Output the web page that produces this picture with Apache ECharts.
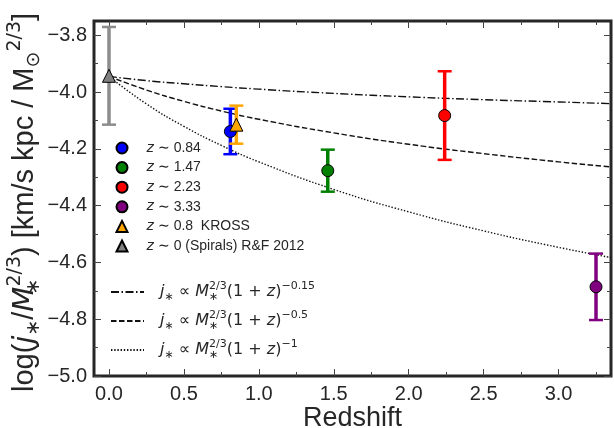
<!DOCTYPE html>
<html><head><meta charset="utf-8">
<script src="https://cdn.jsdelivr.net/npm/echarts@6/dist/echarts.min.js"></script>
<style>html,body{margin:0;padding:0;background:#fff}#c{width:614px;height:428px}</style>
</head><body><div id="c"></div>
<script>
// ---- data ----
const sampleLabels = ['0.84', '1.47', '2.23', '3.33', '0.8  KROSS', '0 (Spirals) R&F 2012'];
const sampleZ = [0.81, 1.46, 2.24, 3.25, 0.85, 0.0];
const sampleLogJ = [-4.139, -4.277, -4.083, -4.686, -4.115, -3.943];
const sampleErr = [0.080, 0.074, 0.156, 0.117, 0.067, 0.172];
const sampleColors = ['#0000ff', '#008000', '#ff0000', '#800080', '#ffa500', '#808080'];
const barColors = ['#0000ff', '#008000', '#ff0000', '#800080', '#ffa500', '#8c8c8c'];
const sampleSymbols = ['circle', 'circle', 'circle', 'circle', 'triangle', 'triangle'];

const modelZ = [0, 0.25, 0.5, 0.75, 1.0, 1.5, 2.0, 2.5, 3.0, 3.35];
const modelP015 = [-3.945, -3.960, -3.971, -3.981, -3.990, -4.005, -4.017, -4.027, -4.035, -4.041];
const modelP05 = [-3.945, -3.993, -4.033, -4.067, -4.096, -4.144, -4.184, -4.217, -4.246, -4.264];
const modelP1 = [-3.945, -4.042, -4.121, -4.188, -4.246, -4.343, -4.422, -4.489, -4.547, -4.583];
const modelNames = ['n015', 'n05', 'n1'];
const modelExps = ['−0.15', '−0.5', '−1'];

const xTicks = [0, 0.5, 1.0, 1.5, 2.0, 2.5, 3.0];
const xMinor = [0.25, 0.75, 1.25, 1.75, 2.25, 2.75, 3.25];
const yTicks = [-5.0, -4.8, -4.6, -4.4, -4.2, -4.0, -3.8];
const yMinor = [-4.9, -4.7, -4.5, -4.3, -4.1, -3.9];

const X_MIN = -0.1, X_MAX = 3.35, Y_MIN = -5.0, Y_MAX = -3.75;
const INK = '#262626';

// ---- build ----
const series = [];
const modelData = [modelP015, modelP05, modelP1];
const dashes = [[8, 2.5, 1.5, 2.5], [5.5, 2.5], [1.4, 1.8]];
modelData.forEach((arr, k) => {
  series.push({
    name: modelNames[k], type: 'line', xAxisIndex: 0, yAxisIndex: 0,
    data: modelZ.map((z, i) => [z, arr[i]]), smooth: true, symbol: 'none', showSymbol: false,
    itemStyle: { color: '#111' },
    lineStyle: { color: '#111', width: 1.4, type: dashes[k] }, z: 1, silent: true
  });
});
sampleZ.forEach((z, i) => {
  const col = barColors[i];
  series.push({
    type: 'custom', xAxisIndex: 0, yAxisIndex: 0, z: 2, silent: true,
    data: [[z, sampleLogJ[i], sampleLogJ[i] - sampleErr[i], sampleLogJ[i] + sampleErr[i]]],
    renderItem: function (params, api) {
      const x = api.value(0);
      const p1 = api.coord([x, api.value(3)]);
      const p2 = api.coord([x, api.value(2)]);
      const cw = 7;
      return { type: 'group', children: [
        { type: 'line', shape: { x1: p1[0], y1: p1[1], x2: p2[0], y2: p2[1] }, style: { stroke: col, lineWidth: 3.5 } },
        { type: 'line', shape: { x1: p1[0] - cw, y1: p1[1], x2: p1[0] + cw, y2: p1[1] }, style: { stroke: col, lineWidth: 2.5 } },
        { type: 'line', shape: { x1: p2[0] - cw, y1: p2[1], x2: p2[0] + cw, y2: p2[1] }, style: { stroke: col, lineWidth: 2.5 } }
      ]};
    }
  });
});
sampleZ.forEach((z, i) => {
  series.push({
    name: 'z ∼ ' + sampleLabels[i], type: 'scatter', xAxisIndex: 0, yAxisIndex: 0, z: 3,
    symbol: sampleSymbols[i], symbolSize: sampleSymbols[i] === 'circle' ? 12 : 13,
    itemStyle: { color: sampleColors[i], borderColor: '#000', borderWidth: 1, opacity: 1 },
    data: [[z, sampleLogJ[i]]]
  });
});

function xAxisDef(pos, vals, len, labels) {
  return {
    type: 'value', position: pos, min: X_MIN, max: X_MAX,
    axisLine: { show: false, onZero: false }, splitLine: { show: false },
    axisTick: { show: true, inside: true, length: len, customValues: vals, lineStyle: { color: '#444', width: 1 } },
    axisLabel: labels ? { show: true, customValues: vals, margin: 8, fontSize: 20, color: INK, fontFamily: 'Liberation Sans, Arial',
      formatter: v => v.toFixed(1) } : { show: false }
  };
}
function yAxisDef(pos, vals, len, labels) {
  return {
    type: 'value', position: pos, min: Y_MIN, max: Y_MAX,
    axisLine: { show: false, onZero: false }, splitLine: { show: false },
    axisTick: { show: true, inside: true, length: len, customValues: vals, lineStyle: { color: '#444', width: 1 } },
    axisLabel: labels ? { show: true, customValues: vals, margin: 7, fontSize: 20, color: INK, fontFamily: 'Liberation Sans, Arial',
      formatter: v => v.toFixed(1).replace('-', '−') } : { show: false }
  };
}

const xA0 = xAxisDef('bottom', xTicks, 7, true);
xA0.name = 'Redshift'; xA0.nameLocation = 'middle'; xA0.nameGap = 29; xA0.nameMoveOverlap = false;
xA0.nameTextStyle = { fontSize: 27, color: INK, fontFamily: 'Liberation Sans, Arial' };
const yA0 = yAxisDef('left', yTicks, 7, true);
yA0.name = '{t|log(}{i|j}{sb|∗}{t|/}{i|M}{sz|∗}{sp|2/3}{t|) [km/s kpc / M}{sb|⊙}{sp|2/3}{t|]}';
yA0.nameLocation = 'middle'; yA0.nameGap = 50; yA0.nameMoveOverlap = false;
const mathFont = 'DejaVu Sans';
yA0.nameTextStyle = { fontSize: 29, color: INK, padding: [0, 8, 0, 0], rich: {
  t: { fontSize: 29, lineHeight: 38, color: INK, fontFamily: 'Liberation Sans, Arial' },
  i: { fontSize: 29, lineHeight: 38, color: INK, fontFamily: mathFont, fontStyle: 'italic' },
  sb: { fontSize: 19, lineHeight: 19, color: INK, fontFamily: mathFont, verticalAlign: 'bottom' },
  sz: { fontSize: 19, lineHeight: 19, width: 0, align: 'left', color: INK, fontFamily: mathFont, verticalAlign: 'bottom' },
  sp: { fontSize: 19, lineHeight: 19, color: INK, fontFamily: mathFont, verticalAlign: 'top' }
}};

const legRich = {
  t: { fontSize: 14, lineHeight: 16, color: INK, fontFamily: 'Liberation Sans, Arial' },
  i: { fontSize: 14, lineHeight: 16, color: INK, fontFamily: mathFont, fontStyle: 'italic' }
};
const legRich2 = {
  t: { fontSize: 16, lineHeight: 22, color: INK, fontFamily: mathFont },
  i: { fontSize: 16, lineHeight: 22, color: INK, fontFamily: mathFont, fontStyle: 'italic' },
  sb: { fontSize: 11, lineHeight: 11, color: INK, fontFamily: mathFont, verticalAlign: 'bottom' },
  sz: { fontSize: 11, lineHeight: 11, width: 0, align: 'left', color: INK, fontFamily: mathFont, verticalAlign: 'bottom' },
  sp: { fontSize: 11, lineHeight: 11, color: INK, fontFamily: mathFont, verticalAlign: 'top' }
};

const option = {
  animation: false,
  backgroundColor: '#ffffff',
  grid: { left: 94, top: 21, right: 3, bottom: 52, show: true, borderColor: INK, borderWidth: 3,
    backgroundColor: 'transparent', containLabel: false, outerBoundsMode: 'none' },
  xAxis: [xA0, xAxisDef('bottom', xMinor, 4, false), xAxisDef('top', xTicks, 7, false), xAxisDef('top', xMinor, 4, false)],
  yAxis: [yA0, yAxisDef('left', yMinor, 4, false), yAxisDef('right', yTicks, 7, false), yAxisDef('right', yMinor, 4, false)],
  legend: [
    { orient: 'vertical', left: 115.5, top: 141, padding: 0, itemGap: 5.6, itemWidth: 11, itemHeight: 11,
      data: sampleLabels.map(l => 'z ∼ ' + l),
      textStyle: { padding: [0, 0, 0, 14], rich: legRich },
      formatter: n => '{i|z}{t| ∼ ' + n.slice(4) + '}' },
    { orient: 'vertical', left: 110, top: 281, padding: 0, itemGap: 7, itemWidth: 33, itemHeight: 10,
      data: modelNames.map(n => ({ name: n, itemStyle: { opacity: 0 } })),
      itemStyle: { opacity: 0, borderWidth: 0 },
      textStyle: { padding: [0, 0, 0, 11], rich: legRich2 },
      formatter: n => '{i|j}{sb|∗}{t| ∝ }{i|M}{sz|∗}{sp|2/3}{t|(1 + }{i|z}{t|)}{sp|' + modelExps[modelNames.indexOf(n)] + '}' }
  ],
  series: series
};
const chart = echarts.init(document.getElementById('c'), null, { renderer: 'canvas' });
chart.setOption(option);
</script>
</body></html>
